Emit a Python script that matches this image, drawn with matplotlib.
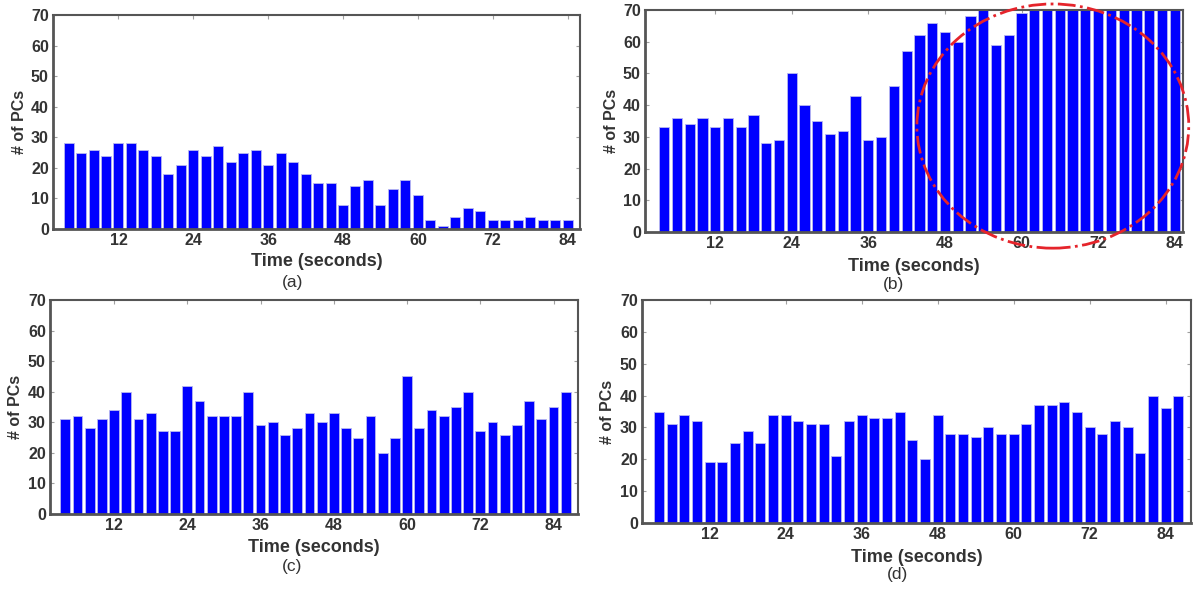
import matplotlib
matplotlib.use("Agg")
import matplotlib.pyplot as plt
from matplotlib.patches import Ellipse

plt.rcParams['font.family'] = ['Liberation Sans', 'DejaVu Sans']

# bar positions in seconds
TIME_41 = list(range(4, 85, 2))   # panels (a) and (b)
TIME_42 = list(range(4, 87, 2))   # panels (c) and (d)

PCS_A = [28, 25, 26, 24, 28, 28, 26, 24, 18, 21, 26, 24, 27, 22, 25, 26, 21, 25, 22, 18,
         15, 15, 8, 14, 16, 8, 13, 16, 11, 3, 1, 4, 7, 6, 3, 3, 3, 4, 3, 3, 3]
PCS_B = [33, 36, 34, 36, 33, 36, 33, 37, 28, 29, 50, 40, 35, 31, 32, 43, 29, 30, 46, 57,
         62, 66, 63, 60, 68, 70, 59, 62, 69, 70, 70, 70, 70, 70, 70, 70, 70, 70, 70, 70, 70]
PCS_C = [31, 32, 28, 31, 34, 40, 31, 33, 27, 27, 42, 37, 32, 32, 32, 40, 29, 30, 26, 28,
         33, 30, 33, 28, 25, 32, 20, 25, 45, 28, 34, 32, 35, 40, 27, 30, 26, 29, 37, 31,
         35, 40]
PCS_D = [35, 31, 34, 32, 19, 19, 25, 29, 25, 34, 34, 32, 31, 31, 21, 32, 34, 33, 33, 35,
         26, 20, 34, 28, 28, 27, 30, 28, 28, 31, 37, 37, 38, 35, 30, 28, 32, 30, 22, 40,
         36, 40]

XTICKS = [12, 24, 36, 48, 60, 72, 84]
YTICKS = [0, 10, 20, 30, 40, 50, 60, 70]
CAPTIONS = ['(a)', '(b)', '(c)', '(d)']

W, H = 1193, 589

# panel layout in pixels: box = left, right, top, bottom
PANELS = [
    dict(box=(53, 580, 15, 229), xlim=(1.5, 86.0), xl=262, cap=(293, 282), yl=19),
    dict(box=(645, 1183, 10, 232), xlim=(1.0, 85.3), xl=267, cap=(894, 285), yl=611),
    dict(box=(50, 578, 300, 514), xlim=(1.5, 88.0), xl=547, cap=(292, 567), yl=16),
    dict(box=(642, 1191, 300, 523), xlim=(1.3, 88.0), xl=557, cap=(897, 575), yl=607),
]
SERIES = [(TIME_41, PCS_A), (TIME_41, PCS_B), (TIME_42, PCS_C), (TIME_42, PCS_D)]

fig = plt.figure(figsize=(W / 100, H / 100), dpi=100)
fig.patch.set_facecolor('white')

axes = []
for p, (t, v), cap in zip(PANELS, SERIES, CAPTIONS):
    l, r, top, b = p['box']
    ax = fig.add_axes([l / W, 1 - b / H, (r - l) / W, (b - top) / H])
    ax.bar(t, v, width=1.6, color='#0000ff', edgecolor='#b8b8f0', linewidth=0.6, zorder=2)
    ax.set_xlim(*p['xlim'])
    ax.set_ylim(0, 70)
    ax.set_xticks(XTICKS)
    ax.set_yticks(YTICKS)
    ax.tick_params(direction='in', top=True, right=True, length=3, width=0.8,
                   color='#a0a0a0', labelcolor='#333333', labelsize=11.5, pad=3)
    for lab in ax.get_xticklabels() + ax.get_yticklabels():
        lab.set_fontweight('bold')
    for side in ['left', 'bottom']:
        ax.spines[side].set_color('#555555')
        ax.spines[side].set_linewidth(2.0)
    for side in ['top', 'right']:
        ax.spines[side].set_color('#555555')
        ax.spines[side].set_linewidth(1.5)

    ax.set_xlabel('Time (seconds)', fontsize=13, fontweight='bold', color='#333333')
    ax.xaxis.set_label_coords(0.5, -(p['xl'] - b) / (b - top))
    ax.xaxis.label.set_va('center')
    ax.set_ylabel('# of PCs', fontsize=11.5, fontweight='bold', color='#333333')
    ax.yaxis.set_label_coords(-(l - p['yl']) / (r - l), 0.5)
    ax.yaxis.label.set_va('center')
    fig.text(p['cap'][0] / W, 1 - p['cap'][1] / H, cap, fontsize=12.5, color='#333333',
             ha='center', va='center')
    axes.append(ax)

# red dash-dot ellipse highlighting the saturated region in (b)
ell = Ellipse((64.9, 33.4), 42.6, 77.0, transform=axes[1].transData, fill=False,
              edgecolor='#e5242b', linestyle='-.', linewidth=2.0, clip_on=False, zorder=5)
axes[1].add_patch(ell)

fig.savefig('out.png', dpi=100)
